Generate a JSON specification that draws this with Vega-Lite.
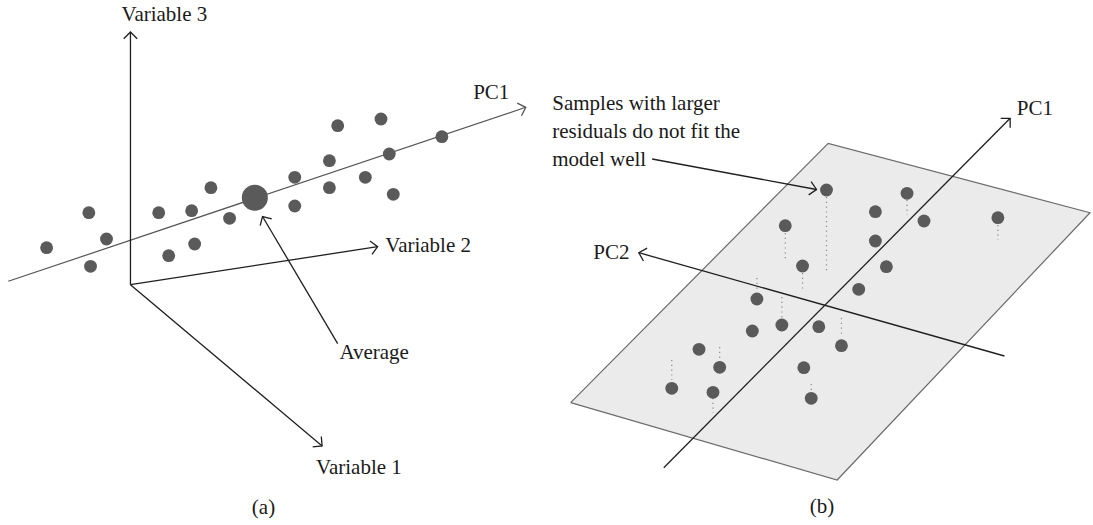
{
  "$schema": "https://vega.github.io/schema/vega-lite/v6.json",
  "width": 1093,
  "height": 525,
  "padding": 0,
  "autosize": {"type": "fit", "contains": "padding"},
  "background": "white",
  "config": {"view": {"stroke": null}},
  "datasets": {
    "plane": [
      {"order": 1, "x": 571.7, "y": 402.7},
      {"order": 2, "x": 829.7, "y": 143.3},
      {"order": 3, "x": 1092, "y": 212.7},
      {"order": 4, "x": 838.7, "y": 480},
      {"order": 5, "x": 571.7, "y": 402.7}
    ],
    "segments": [
      {"kind": "axis", "head": "yes", "x": 130.7, "y": 284.7, "x2": 130.7, "y2": 32},
      {"kind": "axis", "head": "yes", "x": 130.7, "y": 284.7, "x2": 378.3, "y2": 246.7},
      {"kind": "axis", "head": "yes", "x": 130.7, "y": 284.7, "x2": 322.7, "y2": 446},
      {"kind": "axis", "head": "yes", "x": 338.3, "y": 343.7, "x2": 263, "y2": 216.5},
      {"kind": "pc1a", "head": "yes", "x": 8.3, "y": 281.3, "x2": 526.7, "y2": 107.3},
      {"kind": "axis", "head": "yes", "x": 665, "y": 467.7, "x2": 1012, "y2": 118.3},
      {"kind": "axis", "head": "yes", "x": 1006.3, "y": 356, "x2": 640, "y2": 252.7},
      {"kind": "axis", "head": "yes", "x": 653.3, "y": 159, "x2": 818, "y2": 189.5},
      {"kind": "resid", "head": "no", "x": 828, "y": 197, "x2": 828, "y2": 272},
      {"kind": "resid", "head": "no", "x": 908.7, "y": 200, "x2": 908.7, "y2": 215},
      {"kind": "resid", "head": "no", "x": 999.7, "y": 225, "x2": 999.7, "y2": 240},
      {"kind": "resid", "head": "no", "x": 786.7, "y": 233, "x2": 786.7, "y2": 260},
      {"kind": "resid", "head": "no", "x": 804, "y": 273, "x2": 804, "y2": 290},
      {"kind": "resid", "head": "no", "x": 758.3, "y": 278, "x2": 758.3, "y2": 292},
      {"kind": "resid", "head": "no", "x": 783.3, "y": 297, "x2": 783.3, "y2": 318},
      {"kind": "resid", "head": "no", "x": 721, "y": 347, "x2": 721, "y2": 360},
      {"kind": "resid", "head": "no", "x": 673, "y": 360, "x2": 673, "y2": 380},
      {"kind": "resid", "head": "no", "x": 714.3, "y": 398, "x2": 714.3, "y2": 413},
      {"kind": "resid", "head": "no", "x": 812.7, "y": 384, "x2": 812.7, "y2": 391},
      {"kind": "resid", "head": "no", "x": 843, "y": 318, "x2": 843, "y2": 335}
    ],
    "dots": [
      {"kind": "sample", "x": 46.7, "y": 247.7},
      {"kind": "sample", "x": 89, "y": 212.7},
      {"kind": "sample", "x": 106.7, "y": 239},
      {"kind": "sample", "x": 90.7, "y": 266.3},
      {"kind": "sample", "x": 159, "y": 212.7},
      {"kind": "sample", "x": 192, "y": 210.7},
      {"kind": "sample", "x": 211.3, "y": 187.7},
      {"kind": "sample", "x": 230, "y": 218.3},
      {"kind": "sample", "x": 195, "y": 244},
      {"kind": "sample", "x": 169, "y": 255.7},
      {"kind": "sample", "x": 338.3, "y": 125.7},
      {"kind": "sample", "x": 381.7, "y": 119},
      {"kind": "sample", "x": 442.7, "y": 136.7},
      {"kind": "sample", "x": 390, "y": 154},
      {"kind": "sample", "x": 330, "y": 160.7},
      {"kind": "sample", "x": 295.3, "y": 177.3},
      {"kind": "sample", "x": 366, "y": 177.3},
      {"kind": "sample", "x": 330, "y": 187.7},
      {"kind": "sample", "x": 394, "y": 194.3},
      {"kind": "sample", "x": 295.3, "y": 206},
      {"kind": "average", "x": 255.3, "y": 197.7},
      {"kind": "sample", "x": 828, "y": 190},
      {"kind": "sample", "x": 908.7, "y": 193.3},
      {"kind": "sample", "x": 877, "y": 211.7},
      {"kind": "sample", "x": 925.7, "y": 221},
      {"kind": "sample", "x": 999.7, "y": 217.7},
      {"kind": "sample", "x": 877, "y": 241},
      {"kind": "sample", "x": 888, "y": 266.7},
      {"kind": "sample", "x": 860.3, "y": 289.3},
      {"kind": "sample", "x": 786.7, "y": 225.7},
      {"kind": "sample", "x": 804, "y": 266},
      {"kind": "sample", "x": 758.3, "y": 299},
      {"kind": "sample", "x": 783.3, "y": 325},
      {"kind": "sample", "x": 753.7, "y": 331},
      {"kind": "sample", "x": 820.3, "y": 326.7},
      {"kind": "sample", "x": 700.3, "y": 349.3},
      {"kind": "sample", "x": 721, "y": 367.3},
      {"kind": "sample", "x": 673, "y": 388.3},
      {"kind": "sample", "x": 714.3, "y": 392.3},
      {"kind": "sample", "x": 805.3, "y": 367.7},
      {"kind": "sample", "x": 812.7, "y": 398.3},
      {"kind": "sample", "x": 843, "y": 345.7}
    ],
    "labels": [
      {"pos": "center", "x": 164.7, "y": 21, "text": "Variable 3"},
      {"pos": "left", "x": 474, "y": 99.3, "text": "PC1"},
      {"pos": "left", "x": 386, "y": 252.3, "text": "Variable 2"},
      {"pos": "left", "x": 340, "y": 358.7, "text": "Average"},
      {"pos": "left", "x": 316.7, "y": 473.7, "text": "Variable 1"},
      {"pos": "center", "x": 264, "y": 513.5, "text": "(a)"},
      {"pos": "left", "x": 553.3, "y": 110, "text": "Samples with larger"},
      {"pos": "left", "x": 553.3, "y": 138, "text": "residuals do not fit the"},
      {"pos": "left", "x": 553.3, "y": 166, "text": "model well"},
      {"pos": "left", "x": 594.3, "y": 259.3, "text": "PC2"},
      {"pos": "left", "x": 1018.7, "y": 115, "text": "PC1"},
      {"pos": "center", "x": 823.5, "y": 512.7, "text": "(b)"}
    ]
  },
  "layer": [
    {
      "data": {"name": "plane"},
      "mark": {"type": "line", "fill": "#ebebeb", "stroke": "#6b6b6b", "strokeWidth": 1.2, "strokeJoin": "miter"},
      "encoding": {
        "x": {"field": "x", "type": "quantitative", "scale": {"domain": [0, 1093], "nice": false, "zero": false}, "axis": null},
        "y": {"field": "y", "type": "quantitative", "scale": {"domain": [0, 525], "nice": false, "zero": false, "reverse": true}, "axis": null},
        "order": {"field": "order", "type": "quantitative"}
      }
    },
    {
      "data": {"name": "segments"},
      "transform": [{"filter": "datum.kind == 'resid'"}],
      "mark": {"type": "rule", "color": "#8a8a8a", "strokeWidth": 1.2, "strokeDash": [1.2, 3.6], "strokeCap": "butt"},
      "encoding": {
        "x": {"field": "x", "type": "quantitative", "scale": {"domain": [0, 1093], "nice": false, "zero": false}, "axis": null},
        "y": {"field": "y", "type": "quantitative", "scale": {"domain": [0, 525], "nice": false, "zero": false, "reverse": true}, "axis": null},
        "x2": {"field": "x2"},
        "y2": {"field": "y2"}
      }
    },
    {
      "data": {"name": "segments"},
      "transform": [{"filter": "datum.kind == 'pc1a'"}],
      "mark": {"type": "rule", "color": "#555555", "strokeWidth": 1.2},
      "encoding": {
        "x": {"field": "x", "type": "quantitative", "scale": {"domain": [0, 1093], "nice": false, "zero": false}, "axis": null},
        "y": {"field": "y", "type": "quantitative", "scale": {"domain": [0, 525], "nice": false, "zero": false, "reverse": true}, "axis": null},
        "x2": {"field": "x2"},
        "y2": {"field": "y2"}
      }
    },
    {
      "data": {"name": "segments"},
      "transform": [{"filter": "datum.kind == 'axis'"}],
      "mark": {"type": "rule", "color": "#1f1f1f", "strokeWidth": 1.3},
      "encoding": {
        "x": {"field": "x", "type": "quantitative", "scale": {"domain": [0, 1093], "nice": false, "zero": false}, "axis": null},
        "y": {"field": "y", "type": "quantitative", "scale": {"domain": [0, 525], "nice": false, "zero": false, "reverse": true}, "axis": null},
        "x2": {"field": "x2"},
        "y2": {"field": "y2"}
      }
    },
    {
      "data": {"name": "segments"},
      "transform": [
        {"filter": "datum.head == 'yes'"},
        {"calculate": "atan2(datum.y2 - datum.y, datum.x2 - datum.x) * 180 / PI", "as": "dir"}
      ],
      "mark": {"type": "point", "shape": "M-1,-1L0,0L-1,1", "filled": false, "size": 180, "strokeWidth": 1.3, "opacity": 1},
      "encoding": {
        "x": {"field": "x2", "type": "quantitative", "scale": {"domain": [0, 1093], "nice": false, "zero": false}, "axis": null},
        "y": {"field": "y2", "type": "quantitative", "scale": {"domain": [0, 525], "nice": false, "zero": false, "reverse": true}, "axis": null},
        "angle": {"field": "dir", "type": "quantitative", "scale": null},
        "color": {"field": "kind", "type": "nominal", "scale": {"domain": ["axis", "pc1a"], "range": ["#1f1f1f", "#555555"]}, "legend": null}
      }
    },
    {
      "data": {"name": "dots"},
      "mark": {"type": "circle", "opacity": 1, "color": "#5a5a5a"},
      "encoding": {
        "x": {"field": "x", "type": "quantitative", "scale": {"domain": [0, 1093], "nice": false, "zero": false}, "axis": null},
        "y": {"field": "y", "type": "quantitative", "scale": {"domain": [0, 525], "nice": false, "zero": false, "reverse": true}, "axis": null},
        "size": {"field": "kind", "type": "nominal", "scale": {"domain": ["sample", "average"], "range": [165, 680]}, "legend": null}
      }
    },
    {
      "data": {"name": "labels"},
      "transform": [{"filter": "datum.pos == 'left'"}],
      "mark": {"type": "text", "font": "Liberation Serif", "fontSize": 21, "color": "#1a1a1a", "align": "left", "baseline": "alphabetic"},
      "encoding": {
        "x": {"field": "x", "type": "quantitative", "scale": {"domain": [0, 1093], "nice": false, "zero": false}, "axis": null},
        "y": {"field": "y", "type": "quantitative", "scale": {"domain": [0, 525], "nice": false, "zero": false, "reverse": true}, "axis": null},
        "text": {"field": "text"}
      }
    },
    {
      "data": {"name": "labels"},
      "transform": [{"filter": "datum.pos == 'center'"}],
      "mark": {"type": "text", "font": "Liberation Serif", "fontSize": 21, "color": "#1a1a1a", "align": "center", "baseline": "alphabetic"},
      "encoding": {
        "x": {"field": "x", "type": "quantitative", "scale": {"domain": [0, 1093], "nice": false, "zero": false}, "axis": null},
        "y": {"field": "y", "type": "quantitative", "scale": {"domain": [0, 525], "nice": false, "zero": false, "reverse": true}, "axis": null},
        "text": {"field": "text"}
      }
    }
  ]
}
